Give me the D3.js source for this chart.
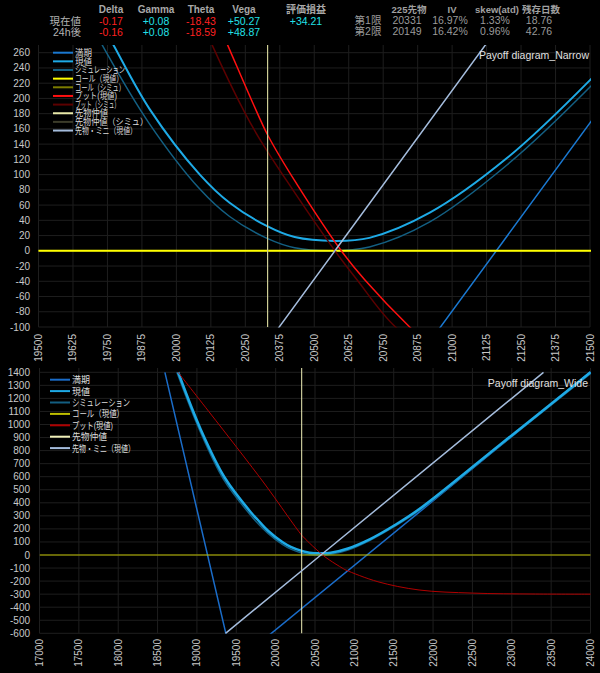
<!DOCTYPE html>
<html><head><meta charset="utf-8">
<script src="https://cdn.jsdelivr.net/npm/d3@7"></script>
<style>
body{margin:0;background:#000;}
svg{display:block;font-family:"Liberation Sans","Noto Sans CJK JP",sans-serif;}
</style>
</head><body><svg id="c" width="600" height="673"></svg>
<script>
// ---------- header data ----------
const greekNames = ["Delta","Gamma","Theta","Vega","評価損益"];
const rowLabels = ["現在値","24h後"];
const greekNow = ["-0.17","+0.08","-18.43","+50.27","+34.21"];
const greek24h = ["-0.16","+0.08","-18.59","+48.87",""];
const futHeaders = ["225先物","IV","skew(atd)","残存日数"];
const futRowLabels = ["第1限","第2限"];
const futRow1 = ["20331","16.97%","1.33%","18.76"];
const futRow2 = ["20149","16.42%","0.96%","42.76"];

// ---------- axis ticks ----------
const narrowXTicks = [19500,19625,19750,19875,20000,20125,20250,20375,20500,20625,20750,20875,21000,21125,21250,21375,21500];
const narrowYTicks = [-100,-80,-60,-40,-20,0,20,40,60,80,100,120,140,160,180,200,220,240,260];
const wideXTicks = [17000,17500,18000,18500,19000,19500,20000,20500,21000,21500,22000,22500,23000,23500,24000];
const wideYTicks = [-600,-500,-400,-300,-200,-100,0,100,200,300,400,500,600,700,800,900,1000,1100,1200,1300,1400];

// ---------- series (underlying price, P/L) ----------
const futuresMid = 20331;
const expiry = [[18593,1400],[19460,-840],[24000,1403]];
const currentVal = [[18762,1400],[19050,960],[19356,590],[19693,322],[19769,272],[19903,186],[20085,100],[20193,63],[20331,32],[20429,18],[20574,13],[20700,17],[20919,50],[21200,122],[21500,224],[21821,350],[22850,845],[24000,1400]];
const simVal = [[18745,1400],[19035,955],[19340,578],[19680,306],[19745,261],[19900,168],[20085,81],[20193,45],[20331,16],[20429,4],[20560,0],[20700,5],[20919,38],[21200,113],[21500,215],[21821,340],[22850,835],[24000,1390]];
const callNow = [[17000,0],[24000,0]];
const callSim = [[17000,0],[24000,0]];
const putNow = [[18760,1400],[19823,575],[20186,270],[20292,182],[20331,152],[20429,92],[20598,0],[20683,-38],[20846,-100],[20892,-115],[21300,-205],[21822,-268],[22500,-292],[23300,-299],[24000,-300]];
const putSim = [[18720,1400],[19780,575],[20130,270],[20250,180],[20300,148],[20400,92],[20575,0],[20655,-38],[20795,-100],[21000,-150],[21500,-225]];
const futMini = [[19363,-600],[20575,0],[23403,1400]];

const narrowLegend = ["満期","現値","シミュレーション","コール（現値）","コール（シミュ）","プット(現値)","プット（シミュ）","先物仲値","先物仲値（シミュ）","先物・ミニ（現値）"];
const wideLegend = ["満期","現値","シミュレーション","コール（現値）","プット(現値)","先物仲値","先物・ミニ（現値）"];

// ---------- drawing ----------
const svg = d3.select("#c");
svg.append("rect").attr("width",600).attr("height",673).attr("fill","#000");

const hdr = svg.append("g").attr("font-size","10px");
const gCols = [111,156,201,244,306];
greekNames.forEach((t,i)=>hdr.append("text").attr("x",gCols[i]).attr("y",13).attr("text-anchor","middle")
  .attr("fill","#a8a8a8").attr("font-weight","bold").text(t));
rowLabels.forEach((t,i)=>hdr.append("text").attr("x",81).attr("y",25+i*11).attr("text-anchor","end")
  .attr("fill","#b4b4b4").attr("font-size","10.5px").text(t));
[greekNow,greek24h].forEach((row,r)=>row.forEach((v,i)=>{
  if(!v) return;
  hdr.append("text").attr("x",gCols[i]).attr("y",25+r*11).attr("text-anchor","middle")
   .attr("fill", v.startsWith("-")?"#ff2020":"#22e0e8").attr("font-size","10.5px").text(v);
}));
const fCols = [409,452,497,541];
futHeaders.forEach((t,i)=>hdr.append("text").attr("x",fCols[i]).attr("y",13).attr("text-anchor","middle")
  .attr("fill","#a0a0a0").attr("font-weight","bold").attr("font-size","9.5px").text(t));
futRowLabels.forEach((t,i)=>hdr.append("text").attr("x",368).attr("y",24+i*11).attr("text-anchor","middle")
  .attr("fill","#9a9a9a").attr("font-size","10.5px").text(t));
[futRow1,futRow2].forEach((row,r)=>row.forEach((v,i)=>hdr.append("text").attr("x",fCols[i]-2).attr("y",24+r*11)
  .attr("text-anchor","middle").attr("fill","#9a9a9a").attr("font-size","10.5px").text(v)));

function chart(cfg){
  const g = svg.append("g");
  const x = d3.scaleLinear().domain(cfg.xDom).range(cfg.xRange);
  const y = d3.scaleLinear().domain(cfg.yDom).range(cfg.yRange);
  const left = cfg.xRange[0], right = cfg.xRange[1], top = cfg.clipTop, bottom = cfg.yRange[0];
  const cid = "clip"+cfg.id;
  g.append("clipPath").attr("id",cid).append("rect").attr("x",left).attr("y",top).attr("width",right-left+1).attr("height",bottom-top+0.5);
  g.selectAll(".gx").data(cfg.xTicks).enter().append("line")
    .attr("x1",d=>x(d)).attr("x2",d=>x(d)).attr("y1",top).attr("y2",bottom)
    .attr("stroke","#1e1e1e").attr("stroke-width",1);
  g.selectAll(".gy").data(cfg.yTicks).enter().append("line")
    .attr("x1",left).attr("x2",right).attr("y1",d=>y(d)).attr("y2",d=>y(d))
    .attr("stroke","#1e1e1e").attr("stroke-width",1);
  g.selectAll(".ly").data(cfg.yTicks).enter().append("text")
    .attr("x",30).attr("y",d=>y(d)).attr("dy","0.35em").attr("text-anchor","end")
    .attr("fill","#c8c8c8").attr("font-size","10px").text(d=>d);
  g.selectAll(".lx").data(cfg.xTicks).enter().append("text")
    .attr("transform",d=>`translate(${x(d)+3.5},${cfg.xLabelY}) rotate(-90)`)
    .attr("text-anchor","end").attr("fill","#c8c8c8").attr("font-size","10px").text(d=>d);
  const curved = d3.line().x(d=>x(d[0])).y(d=>y(d[1])).curve(d3.curveCatmullRom.alpha(0.5));
  const straight = d3.line().x(d=>x(d[0])).y(d=>y(d[1]));
  const pg = g.append("g").attr("clip-path",`url(#${cid})`);
  cfg.order.forEach(i=>{
    const s = cfg.series[i];
    if(s.vertical!==undefined){
      pg.append("line").attr("x1",x(s.vertical)).attr("x2",x(s.vertical)).attr("y1",top).attr("y2",bottom)
        .attr("stroke",s.color).attr("stroke-width",s.w);
      return;
    }
    pg.append("path").attr("d",(s.linear?straight:curved)(s.data)).attr("fill","none")
      .attr("stroke",s.color).attr("stroke-width",s.w).attr("stroke-linejoin","round");
  });
  const lg = g.append("g");
  cfg.legend.forEach((t,i)=>{
    const s = cfg.series[i];
    const yy = cfg.legY + i*cfg.legStep;
    lg.append("line").attr("x1",cfg.legX).attr("x2",cfg.legX+20).attr("y1",yy).attr("y2",yy)
      .attr("stroke",s.color).attr("stroke-width",2);
    lg.append("text").attr("x",cfg.legX+22).attr("y",yy).attr("dy","0.36em")
      .attr("fill","#dcdcdc").attr("font-size",cfg.legFont).attr("textLength",cfg.legW[i]).attr("lengthAdjust","spacingAndGlyphs").text(t);
  });
  g.append("text").attr("x",cfg.titleX).attr("y",cfg.titleY).attr("dy","0.35em").attr("text-anchor","end")
    .attr("fill","#e0e0e0").attr("font-size","10.5px").text(cfg.title);
}

chart({
  id:"n", xDom:[19500,21500], xRange:[38.5,590], yDom:[-100,260], yRange:[327,52.7], clipTop:45,
  xTicks:narrowXTicks, yTicks:narrowYTicks, xLabelY:334,
  title:"Payoff diagram_Narrow", titleX:589, titleY:55,
  legend:narrowLegend, legX:53, legY:52.7, legStep:8.65, legFont:"9px",
  legW:[17,17,50,48,50,42,45,33,73,62],
  order:[0,2,1,4,3,6,5,8,7,9],
  series:[
    {data:expiry,color:"#1a78d0",w:1.5,linear:true},
    {data:currentVal,color:"#1eaae6",w:2},
    {data:simVal,color:"#135f82",w:1.5},
    {data:callNow,color:"#ffff00",w:2,linear:true},
    {data:callSim,color:"#7c7c00",w:1,linear:true},
    {data:putNow,color:"#ff1010",w:1.5},
    {data:putSim,color:"#5c0000",w:1.5},
    {vertical:futuresMid,color:"#e8e8a8",w:1},
    {vertical:futuresMid,color:"#3c3c2a",w:1},
    {data:futMini,color:"#a4bcdc",w:1.5,linear:true}
  ]
});

chart({
  id:"w", xDom:[17000,24000], xRange:[39.5,590.5], yDom:[-600,1400], yRange:[633.3,372.3], clipTop:368,
  xTicks:wideXTicks, yTicks:wideYTicks, xLabelY:639,
  title:"Payoff diagram_Wide", titleX:588, titleY:383,
  legend:wideLegend, legX:50, legY:379.7, legStep:11.4, legFont:"9.5px",
  legW:[18,18,58,52,41,35,63],
  order:[0,2,1,3,4,5,6],
  series:[
    {data:expiry,color:"#1a6cc8",w:1.5,linear:true},
    {data:currentVal,color:"#1eaae6",w:2.5},
    {data:simVal,color:"#135f82",w:1.5},
    {data:callNow,color:"#c0c000",w:1,linear:true},
    {data:putNow,color:"#b00000",w:1},
    {vertical:futuresMid,color:"#f0f0b8",w:1},
    {data:futMini,color:"#a4bcdc",w:1.5,linear:true}
  ]
});
</script></body></html>
